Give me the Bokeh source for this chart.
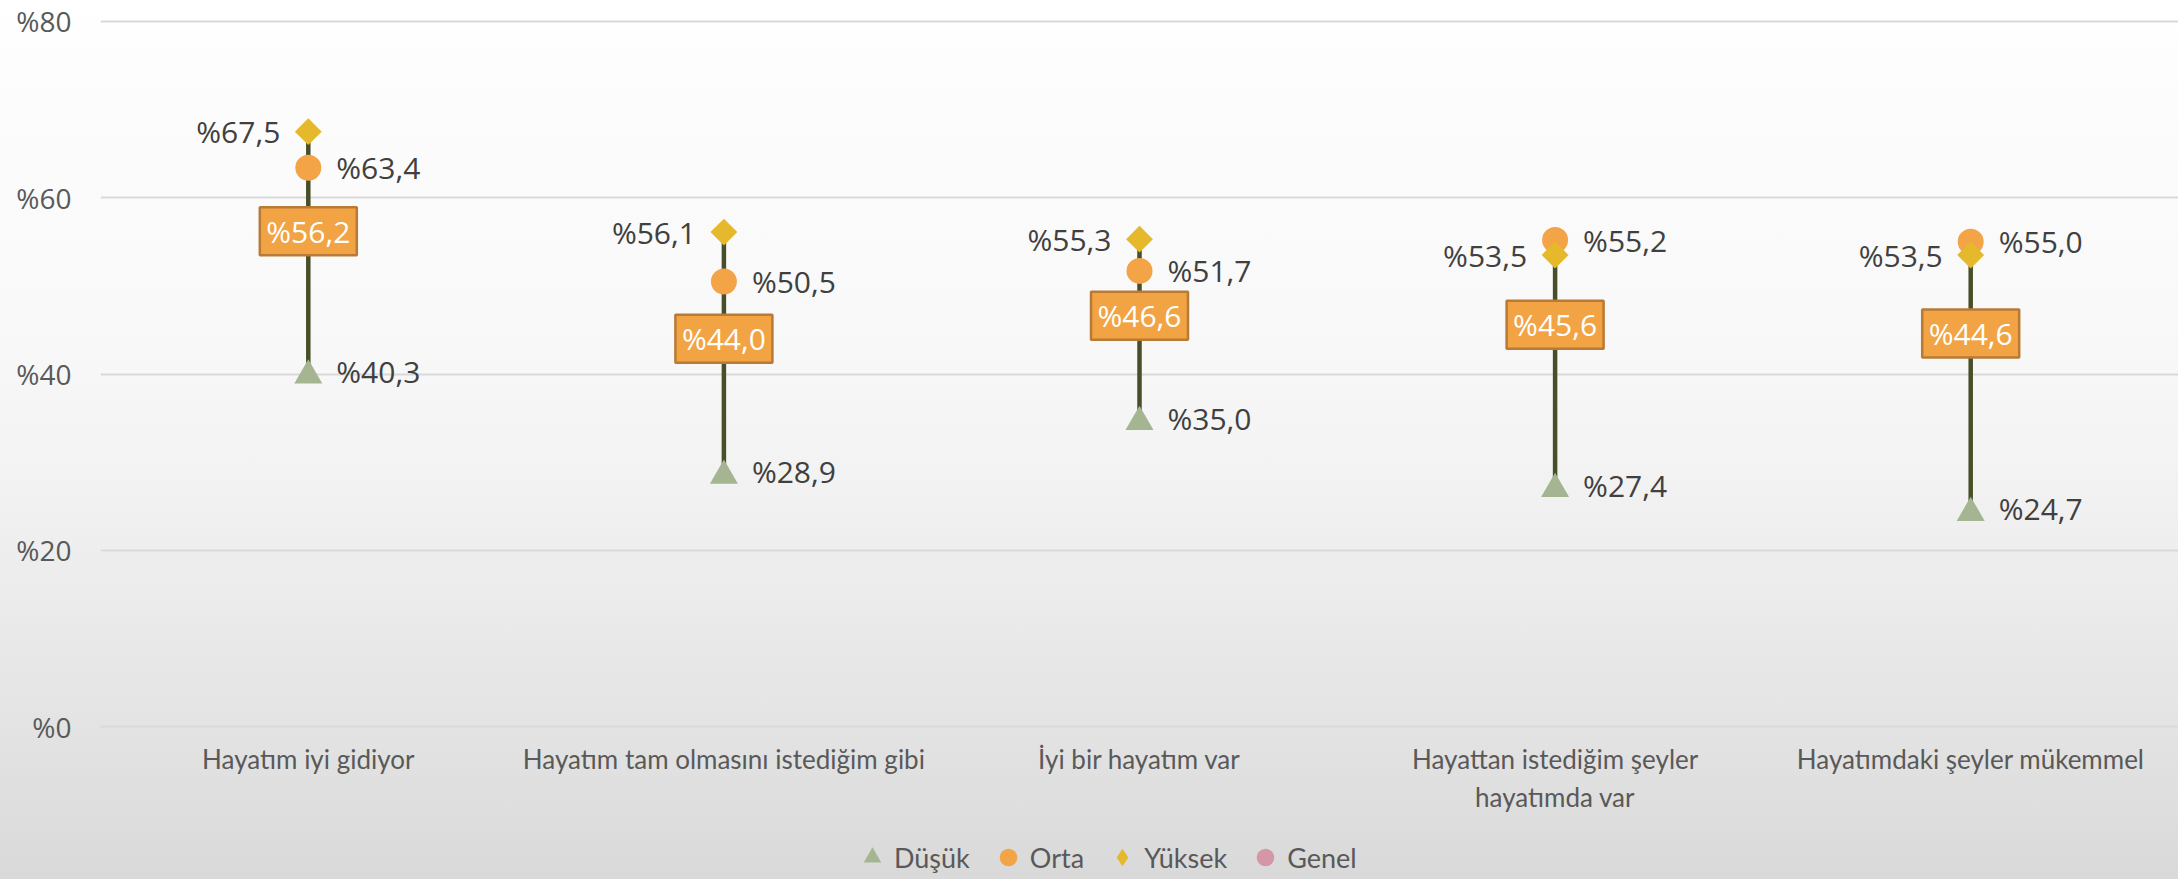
import numpy as np
from bokeh.plotting import figure
from bokeh.layouts import column
from bokeh.models import ColumnDataSource, FactorRange, Range1d, FixedTicker, Legend, LegendItem
from bokeh.core.properties import value
from bokeh.transform import dodge
from bokeh.embed import file_html
from bokeh.resources import INLINE

categories = [
    "Hayatım iyi gidiyor",
    "Hayatım tam olmasını istediğim gibi",
    "İyi bir hayatım var",
    "Hayattan istediğim şeyler\nhayatımda var",
    "Hayatımdaki şeyler mükemmel",
]
dusuk = [40.3, 28.9, 35.0, 27.4, 24.7]
orta = [63.4, 50.5, 51.7, 55.2, 55.0]
yuksek = [67.5, 56.1, 55.3, 53.5, 53.5]
genel = [56.2, 44.0, 46.6, 45.6, 44.6]
series_names = ["Düşük", "Orta", "Yüksek", "Genel"]
y_ticks = [0, 20, 40, 60, 80]
y_tick_labels = ["%0", "%20", "%40", "%60", "%80"]

C_LOW = "#a5b592"
C_MID = "#f2a446"
C_HIGH = "#e5b92b"
C_GEN = "#d597a8"
C_LINE = "#474f28"
BOX_FILL = "#f2a344"
BOX_LINE = "#b97a36"
LBL = "#404040"
TICK = "#595959"


def fmt(v):
    return "%" + f"{v:.1f}".replace(".", ",")


allv = np.array([dusuk, orta, yuksek, genel])
src = ColumnDataSource(dict(
    x=categories,
    low=allv.min(axis=0), high=allv.max(axis=0),
    dusuk=dusuk, orta=orta, yuksek=yuksek, genel=genel,
    l_dusuk=[fmt(v) for v in dusuk], l_orta=[fmt(v) for v in orta],
    l_yuksek=[fmt(v) for v in yuksek], l_genel=[fmt(v) for v in genel],
))

p = figure(
    width=2178, height=815,
    x_range=FactorRange(*categories, range_padding=0),
    y_range=Range1d(-0.225, 80.225),
    output_backend="svg", toolbar_location=None,
    min_border_left=100, min_border_right=0, min_border_top=19, min_border_bottom=86,
)
p.background_fill_alpha = 0
p.border_fill_alpha = 0
p.outline_line_color = None

p.xgrid.visible = False
p.ygrid.grid_line_color = "#d9d9d9"
p.ygrid.grid_line_width = 2

p.yaxis.ticker = FixedTicker(ticks=y_ticks)
p.yaxis.major_label_overrides = {t: l for t, l in zip(y_ticks, y_tick_labels)}
p.yaxis.axis_line_color = None
p.yaxis.major_tick_line_color = None
p.yaxis.minor_tick_line_color = None
p.yaxis.major_tick_out = 0
p.yaxis.major_label_standoff = 29
p.yaxis.major_label_text_font = "Open Sans"
p.yaxis.major_label_text_font_size = "28px"
p.yaxis.major_label_text_color = TICK

p.xaxis.axis_line_color = None
p.xaxis.major_tick_line_color = None
p.xaxis.major_tick_out = 0
p.xaxis.major_label_standoff = 14
p.xaxis.major_label_text_font = "Lato"
p.xaxis.major_label_text_font_size = "26px"
p.xaxis.major_label_text_color = TICK

p.segment(x0="x", y0="low", x1="x", y1="high", source=src, line_color=C_LINE, line_width=4.5)

p.scatter(x="x", y="genel", source=src, marker="circle", size=20, fill_color=C_GEN, line_color=None)
p.rect(x="x", y="genel", width=97, height=48, width_units="screen", height_units="screen",
       source=src, fill_color=BOX_FILL, line_color=BOX_LINE, line_width=2.5)
p.text(x="x", y="genel", text="l_genel", source=src, text_align="center", text_baseline="middle",
       text_font=value("Open Sans"), text_font_size="30px", text_color="white")

# triangle marker: shift so that its bounding box (not centroid) is centred on the value
p.scatter(x="x", y=dodge("dusuk", -0.45, range=p.y_range), source=src, marker="triangle", size=28,
          fill_color=C_LOW, line_color=None)
p.scatter(x="x", y="orta", source=src, marker="circle", size=26, fill_color=C_MID, line_color=None)
p.scatter(x="x", y="yuksek", source=src, marker="square", angle=np.pi / 4, size=19, fill_color=C_HIGH, line_color=None)

for col, lab, off, align in [("dusuk", "l_dusuk", 28, "left"), ("orta", "l_orta", 28, "left"),
                             ("yuksek", "l_yuksek", -28, "right")]:
    p.text(x="x", y=col, text=lab, source=src, x_offset=off, text_align=align, text_baseline="middle",
           text_font=value("Open Sans"), text_font_size="30px", text_color=LBL)

# legend strip (separate small figure, its frame covers the whole strip)
p2 = figure(
    width=2178, height=64, x_range=Range1d(0, 1), y_range=Range1d(0, 1),
    output_backend="svg", toolbar_location=None,
    min_border_left=0, min_border_right=0, min_border_top=0, min_border_bottom=0,
)
p2.axis.visible = False
p2.grid.visible = False
p2.background_fill_alpha = 0
p2.border_fill_alpha = 0
p2.outline_line_color = None
leg_src = ColumnDataSource(dict(x=[-5], y=[-5]))
markers = ["triangle", "circle", "diamond", "circle"]
colors = [C_LOW, C_MID, C_HIGH, C_GEN]
items = []
for name, mk, c in zip(series_names, markers, colors):
    r = p2.scatter(x="x", y="y", source=leg_src, marker=mk, size=10, fill_color=c, line_color=None)
    items.append(LegendItem(label=name, renderers=[r]))

legend = Legend(
    items=items, orientation="horizontal", location=(750, 0),
    glyph_width=44, glyph_height=44, label_standoff=-5, spacing=16, padding=0, margin=0,
    background_fill_alpha=0, border_line_alpha=0,
    label_text_font="Lato", label_text_font_size="27px", label_text_color=TICK,
)
p2.add_layout(legend)

layout = column(
    p, p2, spacing=0,
    styles={"background": "linear-gradient(to bottom, #ffffff 0%, #fdfdfd 8%, #f8f8f8 40%, #f2f2f2 55%, #e6e6e6 78%, #d9d9d9 100%)"},
)

open("out.html", "w").write(file_html(layout, INLINE))
